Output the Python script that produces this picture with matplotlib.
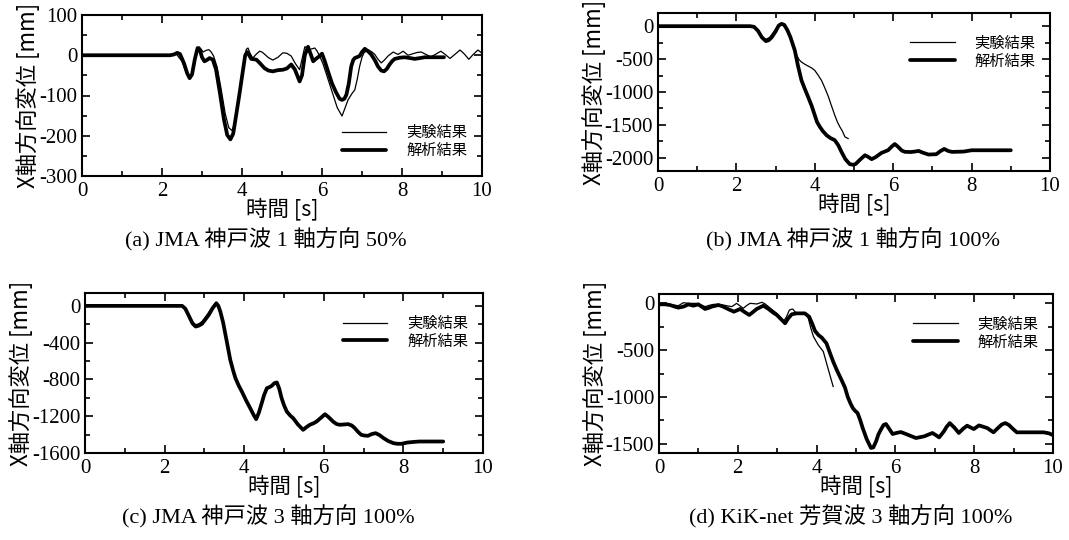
import matplotlib
matplotlib.use("Agg")
import matplotlib.pyplot as plt
from matplotlib.ticker import MultipleLocator

plt.rcParams['axes.unicode_minus'] = False

# ---------------- data ----------------
# (a) JMA Kobe 1-axis 50%
a_exp_t = [0, 2.2, 2.35, 2.5, 2.6, 2.7, 2.78, 2.86, 2.93, 2.98, 3.03, 3.1, 3.17, 3.23, 3.29, 3.38,
           3.48, 3.58, 3.67, 3.75, 3.82, 3.9, 3.98, 4.06, 4.11, 4.15, 4.2, 4.27, 4.35, 4.44, 4.5,
           4.56, 4.66, 4.77, 4.9, 5.02, 5.12, 5.23, 5.33, 5.44, 5.5, 5.57, 5.63, 5.68, 5.75, 5.82,
           5.88, 5.94, 6.02, 6.12, 6.25, 6.38, 6.5, 6.58, 6.65, 6.75, 6.82, 6.88, 6.94, 7.0, 7.05,
           7.15, 7.25, 7.32, 7.4, 7.48, 7.56, 7.65, 7.78, 7.9, 8.03, 8.15, 8.28, 8.38, 8.48, 8.6,
           8.72, 8.85, 8.97, 9.08, 9.2, 9.32, 9.45, 9.56, 9.67, 9.78, 9.9, 10.0]
a_exp_v = [0, 0, 4, -15, -42, -55, -40, 0, 21, 15, 8, 12, 14, 8, -2, -30,
           -85, -145, -180, -187, -170, -120, -60, -5, 15, 18, 5, -7, 2, 10, 8,
           3, -6, -12, -5, 6, 5, -2, -20, -36, -10, 21, 18, 14, 16, 18,
           10, -2, -20, -50, -90, -130, -151, -130, -111, -95, -86, -60, -28, -5, 6,
           14, 8, 2, -10, -19, -12, -2, 8, 2, 10, 0, 4, 7, 8, 2,
           -4, 3, 10, 2, -8, 2, 13, 3, -10, 2, 13, 5]
a_ana_t = [0, 2.2, 2.3, 2.38, 2.45, 2.55, 2.63, 2.69, 2.75, 2.82, 2.89, 2.95, 3.0, 3.06, 3.12, 3.19,
           3.27, 3.35, 3.45, 3.55, 3.63, 3.71, 3.78, 3.86, 3.94, 4.02, 4.08, 4.13, 4.18, 4.23, 4.3,
           4.36, 4.45, 4.56, 4.66, 4.77, 4.9, 5.02, 5.12, 5.23, 5.32, 5.44, 5.5, 5.57, 5.65, 5.72,
           5.78, 5.86, 5.94, 6.0, 6.07, 6.15, 6.25, 6.35, 6.44, 6.5, 6.56, 6.61, 6.67, 6.73, 6.78,
           6.82, 6.94, 7.0, 7.07, 7.15, 7.23, 7.32, 7.4, 7.48, 7.55, 7.62, 7.69, 7.76, 7.82, 7.95,
           8.07, 8.2, 8.32, 8.45, 8.57, 9.05]
a_ana_v = [0, 0, 2, 6, 3, -20, -45, -57, -48, -10, 18, 12, -5, -15, -12, -7,
           -11, -35, -95, -160, -198, -209, -195, -145, -94, -40, 0, 8, 0, -9, -10,
           -11, -20, -32, -38, -40, -37, -36, -33, -23, -35, -65, -50, 0, 21, 2,
           -15, -8, -2, 4, -15, -40, -70, -92, -108, -111, -108, -98, -70, -28, -12,
           -7, -2, 8, 16, 10, 2, -12, -28, -38, -40, -34, -23, -14, -9, -6,
           -5, -7, -9, -7, -5, -5]

# (b) JMA Kobe 1-axis 100%
b_exp_t = [0, 2.35, 2.45, 2.55, 2.65, 2.75, 2.85, 2.95, 3.05, 3.12, 3.2, 3.28, 3.38, 3.46, 3.54, 3.6,
           3.66, 3.75, 3.83, 3.92, 4.0, 4.08, 4.17, 4.25, 4.34, 4.42, 4.51, 4.58, 4.64, 4.7, 4.77,
           4.85]
b_exp_v = [0, 0, -10, -70, -160, -200, -170, -90, 0, 25, 25, -30, -150, -330, -444, -510,
           -545, -580, -606, -635, -672, -740, -823, -930, -1060, -1200, -1354, -1460, -1530, -1590,
           -1682, -1707]
b_ana_t = [0, 2.35, 2.45, 2.55, 2.65, 2.75, 2.82, 2.9, 3.0, 3.08, 3.15, 3.22, 3.3, 3.38, 3.49, 3.57,
           3.66, 3.75, 3.83, 3.92, 4.0, 4.06, 4.13, 4.2, 4.3, 4.4, 4.51, 4.6, 4.68, 4.78, 4.89,
           4.97, 5.04, 5.15, 5.28, 5.36, 5.45, 5.55, 5.7, 5.87, 5.96, 6.04, 6.12, 6.22, 6.3, 6.45,
           6.55, 6.65, 6.75, 6.9, 7.1, 7.2, 7.3, 7.4, 7.5, 7.8, 8.0, 9.0]
b_ana_v = [0, 0, -10, -70, -170, -227, -215, -170, -80, 10, 35, 20, -60, -170, -369, -600,
           -823, -960, -1076, -1210, -1354, -1460, -1530, -1590, -1657, -1700, -1732, -1810, -1909,
           -2020, -2095, -2105, -2095, -2030, -1960, -1985, -2020, -1990, -1925, -1884, -1830, -1790,
           -1830, -1890, -1909, -1912, -1905, -1895, -1920, -1950, -1945, -1900, -1865, -1895, -1910,
           -1905, -1885, -1885]

# (c) JMA Kobe 3-axis 100%
c_exp_t = [0, 2.44, 2.52, 2.6, 2.7, 2.78, 2.86, 2.94, 3.02, 3.11, 3.2, 3.3, 3.35, 3.4, 3.47, 3.53,
           3.59, 3.65, 3.72, 3.78, 3.86, 3.94, 4.05, 4.15, 4.23, 4.3, 4.37, 4.44, 4.5, 4.57, 4.63,
           4.69, 4.76, 4.82, 4.88, 4.94, 5.0, 5.07, 5.15, 5.23, 5.35, 5.48, 5.56, 5.65, 5.75, 5.82,
           5.92, 6.03, 6.12, 6.23, 6.32, 6.4, 6.5, 6.61, 6.7, 6.78, 6.86, 6.94, 7.02, 7.11, 7.2,
           7.3, 7.4, 7.5, 7.62, 7.75, 7.85, 7.95, 8.1, 8.25, 8.4, 9.0]
c_exp_v = [0, 0, -25, -90, -175, -205, -195, -170, -125, -70, -10, 35, 5, -55, -175, -310,
           -445, -580, -695, -780, -860, -925, -1025, -1108, -1178, -1228, -1160, -1055, -968, -892,
           -880, -866, -838, -830, -898, -1000, -1078, -1146, -1188, -1218, -1288, -1345, -1318,
           -1290, -1272, -1254, -1218, -1176, -1208, -1254, -1283, -1290, -1288, -1284, -1298,
           -1328, -1368, -1400, -1408, -1410, -1393, -1382, -1403, -1436, -1468, -1490, -1498,
           -1498, -1484, -1478, -1473, -1473]
c_ana_t = [0, 2.44, 2.52, 2.6, 2.7, 2.78, 2.86, 2.94, 3.02, 3.11, 3.2, 3.3, 3.35, 3.4, 3.47, 3.53,
           3.59, 3.65, 3.72, 3.78, 3.86, 3.94, 4.05, 4.15, 4.23, 4.3, 4.37, 4.44, 4.5, 4.57, 4.63,
           4.69, 4.76, 4.82, 4.88, 4.94, 5.0, 5.07, 5.15, 5.23, 5.35, 5.48, 5.56, 5.65, 5.75, 5.82,
           5.92, 6.03, 6.12, 6.23, 6.32, 6.4, 6.5, 6.61, 6.7, 6.78, 6.86, 6.94, 7.02, 7.11, 7.2,
           7.3, 7.4, 7.5, 7.62, 7.75, 7.85, 7.95, 8.1, 8.25, 8.4, 9.0]
c_ana_v = [0, 0, -30, -100, -190, -225, -215, -195, -150, -98, -30, 29, 0, -62, -180, -315,
           -450, -587, -700, -786, -865, -931, -1030, -1112, -1180, -1232, -1160, -1058, -970, -895,
           -885, -870, -840, -833, -900, -1004, -1080, -1149, -1190, -1221, -1290, -1348, -1320,
           -1293, -1275, -1257, -1220, -1178, -1210, -1257, -1285, -1293, -1290, -1286, -1300,
           -1330, -1370, -1402, -1410, -1413, -1395, -1384, -1405, -1438, -1470, -1493, -1500,
           -1500, -1486, -1480, -1475, -1475]

# (d) KiK-net Haga 3-axis 100%
d_exp_t = [0, 0.15, 0.28, 0.4, 0.49, 0.56, 0.62, 0.75, 0.96, 1.06, 1.17, 1.27, 1.38, 1.5, 1.63,
           1.75, 1.85, 1.97, 2.05, 2.14, 2.22, 2.31, 2.4, 2.48, 2.61, 2.69, 2.85, 2.99, 3.08, 3.16,
           3.24, 3.31, 3.39, 3.49, 3.6, 3.7, 3.79, 3.85, 3.92, 4.04, 4.17, 4.3, 4.42]
d_exp_v = [-5, -8, -15, -20, -25, -8, 7, 0, 0, -15, -35, -22, -11, -10, -18,
           -28, -35, 0, -25, -53, -25, 0, -3, -7, 11, -5, -60, -107, -150, -195,
           -140, -71, -60, -107, -108, -107, -160, -260, -355, -444, -515, -711, -889]
d_ana_t = [0, 0.15, 0.28, 0.4, 0.49, 0.62, 0.75, 0.87, 1.0, 1.08, 1.17, 1.25, 1.34, 1.51, 1.6,
           1.68, 1.8, 1.9, 1.98, 2.06, 2.18, 2.29, 2.38, 2.48, 2.65, 2.78, 2.9, 2.99, 3.1, 3.2,
           3.28, 3.37, 3.49, 3.6, 3.7, 3.81, 3.89, 3.96, 4.05, 4.13, 4.25, 4.33, 4.42, 4.52, 4.63,
           4.72, 4.79, 4.86, 4.92, 4.98, 5.04, 5.1, 5.17, 5.27, 5.38, 5.44, 5.51, 5.57, 5.63, 5.7,
           5.76, 5.84, 5.93, 6.03, 6.14, 6.31, 6.52, 6.73, 6.94, 7.03, 7.11, 7.23, 7.3, 7.38, 7.5,
           7.61, 7.72, 7.82, 7.99, 8.12, 8.22, 8.33, 8.49, 8.62, 8.7, 8.79, 8.88, 8.96, 9.08, 9.76,
           9.9, 10.0]
d_ana_v = [-11, -10, -18, -35, -46, -35, -11, -25, -11, -35, -60, -50, -35, -18, -30,
           -46, -70, -89, -75, -60, -95, -124, -95, -60, -25, -60, -100, -124, -170, -213,
           -160, -117, -107, -107, -107, -142, -220, -295, -340, -366, -427, -520, -622, -720, -817,
           -900, -1000, -1070, -1120, -1150, -1173, -1240, -1333, -1450, -1546, -1540, -1475, -1400,
           -1351, -1300, -1290, -1340, -1397, -1385, -1376, -1404, -1440, -1422, -1386, -1410, -1433,
           -1369, -1320, -1280, -1330, -1386, -1340, -1308, -1344, -1305, -1318, -1333, -1379, -1326,
           -1295, -1280, -1300, -1333, -1379, -1379, -1390, -1410]

labels = ["実験結果", "解析結果"]
captions = ["(a) JMA 神戸波 1 軸方向 50%", "(b) JMA 神戸波 1 軸方向 100%",
            "(c) JMA 神戸波 3 軸方向 100%", "(d) KiK-net 芳賀波 3 軸方向 100%"]
xlabel = "時間 [s]"
ylabel = "X軸方向変位 [mm]"

# ---------------- figure ----------------
W, H = 1069, 540
fig = plt.figure(figsize=(W / 100, H / 100), dpi=100)

def rect(x0, x1, y0, y1):
    return [x0 / W, 1 - y1 / H, (x1 - x0) / W, (y1 - y0) / H]

serif = ['Liberation Serif', 'Noto Sans CJK JP']
sans = ['Noto Sans CJK JP', 'DejaVu Sans']

panels = [
    dict(r=rect(82, 482, 15, 176), ylim=(-300, 100), major=100, minor=50,
         exp=(a_exp_t, a_exp_v), ana=(a_ana_t, a_ana_v), loc='lower right', anchor=(0.99, 0.04)),
    dict(r=rect(658, 1050, 13, 171), ylim=(-2200, 200), major=500, minor=250,
         exp=(b_exp_t, b_exp_v), ana=(b_ana_t, b_ana_v), loc='upper right', anchor=(0.99, 0.93)),
    dict(r=rect(85, 483, 293, 453), ylim=(-1600, 140), major=400, minor=200,
         exp=(c_exp_t, c_exp_v), ana=(c_ana_t, c_ana_v), loc='upper right', anchor=(0.99, 0.93)),
    dict(r=rect(659, 1053, 294, 453), ylim=(-1600, 100), major=500, minor=250,
         exp=(d_exp_t, d_exp_v), ana=(d_ana_t, d_ana_v), loc='upper right', anchor=(0.99, 0.93)),
]

cap_pos = [(266, 240), (853, 240), (268, 517), (851, 517)]

for p, cap, cp in zip(panels, captions, cap_pos):
    ax = fig.add_axes(p['r'])
    ax.plot(*p['exp'], color='black', lw=0.9, label=labels[0],
            solid_joinstyle='round')
    ax.plot(*p['ana'], color='black', lw=2.7, label=labels[1],
            solid_joinstyle='round', solid_capstyle='round')
    ax.set_xlim(0, 10)
    ax.set_ylim(*p['ylim'])
    ax.xaxis.set_major_locator(MultipleLocator(2))
    ax.xaxis.set_minor_locator(MultipleLocator(1))
    ax.yaxis.set_major_locator(MultipleLocator(p['major']))
    ax.yaxis.set_minor_locator(MultipleLocator(p['minor']))
    ax.tick_params(which='both', direction='in', top=True, right=True, width=1.2)
    ax.tick_params(which='major', length=6, labelsize=15)
    ax.tick_params(axis='x', which='major', pad=4)
    ax.tick_params(axis='y', which='major', pad=3.5)
    ax.tick_params(which='minor', length=3.5)
    for lab in ax.get_xticklabels() + ax.get_yticklabels():
        lab.set_fontfamily('Liberation Serif')
    for s in ax.spines.values():
        s.set_linewidth(1.5)
    ax.set_xlabel(xlabel, fontsize=15.5, family=sans, labelpad=-2)
    ax.set_ylabel(ylabel, fontsize=16, family=sans, labelpad=-1)
    ax.legend(loc=p['loc'], bbox_to_anchor=p['anchor'], frameon=False,
              prop={'family': sans, 'size': 11}, handlelength=2.9,
              handletextpad=1.3, labelspacing=0.05, borderaxespad=0.3)
    fig.text(cp[0] / W, 1 - cp[1] / H, cap, ha='center', va='center',
             fontsize=16, family=serif)

fig.savefig("out.png", dpi=100)
